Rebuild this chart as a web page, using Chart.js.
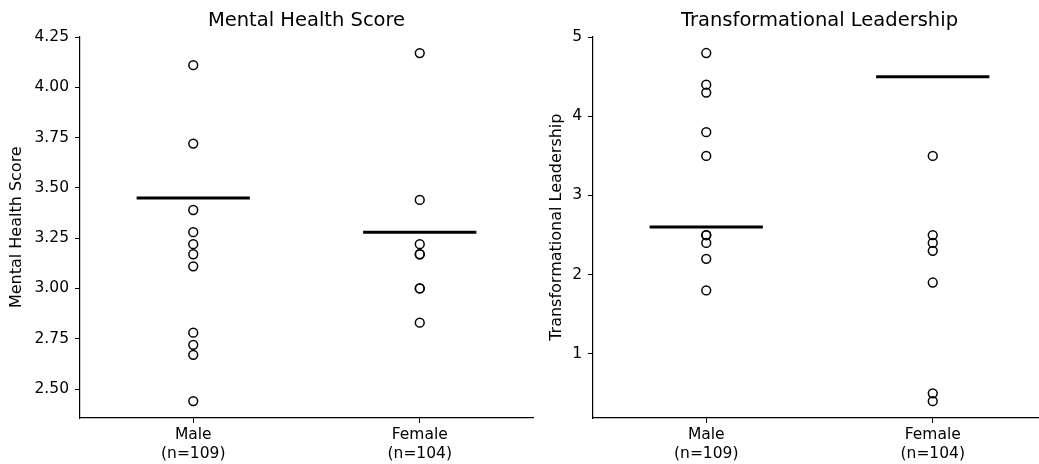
<!DOCTYPE html>
<html>
<head>
<meta charset="utf-8">
<script src="https://cdn.jsdelivr.net/npm/chart.js@4"></script>
<style>
  html, body { margin: 0; padding: 0; background: #fff; overflow: hidden; }
  #wrap { position: relative; width: 1039px; height: 464px; overflow: hidden; }
  canvas { position: absolute; top: 0; }
  #mh { left: 0; }
  #tl { left: 540px; }
</style>
</head>
<body>
<div id="wrap">
  <canvas id="mh" width="560" height="464"></canvas>
  <canvas id="tl" width="520" height="464"></canvas>
</div>
<script>
// groups on the x axis
const categories = ['Male', 'Female'];
const groupSizes = [109, 104];

// Mental Health Score
const mhMale = [4.11, 3.72, 3.39, 3.28, 3.22, 3.17, 3.11, 2.78, 2.72, 2.67, 2.44];
const mhFemale = [4.17, 3.44, 3.22, 3.17, 3.17, 3.00, 3.00, 2.83];
const mhMeans = [3.45, 3.28];
const mhTicks = [2.50, 2.75, 3.00, 3.25, 3.50, 3.75, 4.00, 4.25];

// Transformational Leadership
const tlMale = [4.8, 4.4, 4.3, 3.8, 3.5, 2.5, 2.5, 2.4, 2.2, 1.8];
const tlFemale = [3.5, 2.5, 2.4, 2.3, 1.9, 0.5, 0.4];
const tlMeans = [2.6, 4.5];
const tlTicks = [1, 2, 3, 4, 5];

Chart.defaults.font.family = "'DejaVu Sans', sans-serif";
Chart.defaults.color = '#000';

function pointsAt(xIndex, values) {
    return values.map(v => ({ x: xIndex, y: v }));
}

function meanLine(xIndex, value) {
    return {
        data: [{ x: xIndex - 0.25, y: value }, { x: xIndex + 0.25, y: value }],
        showLine: true,
        borderColor: '#000',
        borderWidth: 3,
        pointRadius: 0,
        order: 0
    };
}

function makeChart(canvasId, title, groups, means, ticks, yMin, yMax, opts) {
    const datasets = [];
    groups.forEach((vals, i) => {
        datasets.push({
            data: pointsAt(i, vals),
            pointStyle: 'circle',
            pointRadius: 4.4,
            pointBorderWidth: 1.5,
            pointBorderColor: '#000',
            pointBackgroundColor: 'rgba(255,255,255,0)',
            showLine: false,
            order: 1
        });
    });
    means.forEach((m, i) => datasets.push(meanLine(i, m)));

    return new Chart(document.getElementById(canvasId), {
        type: 'scatter',
        data: { datasets: datasets },
        options: {
            responsive: false,
            animation: false,
            events: [],
            layout: { padding: { left: 0, right: opts.padRight, top: 0, bottom: 0 } },
            plugins: {
                legend: { display: false },
                tooltip: { enabled: false },
                title: {
                    display: true,
                    text: title,
                    fullSize: false,
                    color: '#000',
                    font: { size: 19.5, weight: 'normal' },
                    padding: { top: 9, bottom: 4 }
                }
            },
            scales: {
                x: {
                    type: 'linear',
                    min: -0.5,
                    max: 1.5,
                    afterBuildTicks: s => { s.ticks = categories.map((c, i) => ({ value: i })); },
                    afterFit: s => { s.height = 46; },
                    ticks: {
                        color: '#000',
                        font: { size: 15.5 },
                        padding: 3,
                        maxRotation: 0,
                        callback: v => [categories[v], '(n=' + groupSizes[v] + ')']
                    },
                    grid: { display: true, drawOnChartArea: false, drawTicks: true, tickLength: 5, color: '#000', tickWidth: 1 },
                    border: { display: true, color: '#000', width: 1.2 }
                },
                y: {
                    min: yMin,
                    max: yMax,
                    afterBuildTicks: s => { s.ticks = ticks.map(v => ({ value: v })); },
                    afterFit: s => { s.width = opts.yWidth; },
                    ticks: {
                        color: '#000',
                        font: { size: 15.5 },
                        padding: 6,
                        callback: v => opts.decimals ? v.toFixed(opts.decimals) : String(v)
                    },
                    title: {
                        display: true,
                        text: title,
                        color: '#000',
                        font: { size: 16 },
                        padding: { top: 7, bottom: 0 }
                    },
                    grid: { display: true, drawOnChartArea: false, drawTicks: true, tickLength: 5, color: '#000', tickWidth: 1 },
                    border: { display: true, color: '#000', width: 1.2 }
                }
            }
        }
    });
}

makeChart('mh', 'Mental Health Score', [mhMale, mhFemale], mhMeans, mhTicks, 2.356, 4.253,
    { yWidth: 80, padRight: 27, decimals: 2 });
makeChart('tl', 'Transformational Leadership', [tlMale, tlFemale], tlMeans, tlTicks, 0.188, 5.01,
    { yWidth: 53, padRight: 14, decimals: 0 });
</script>
</body>
</html>
